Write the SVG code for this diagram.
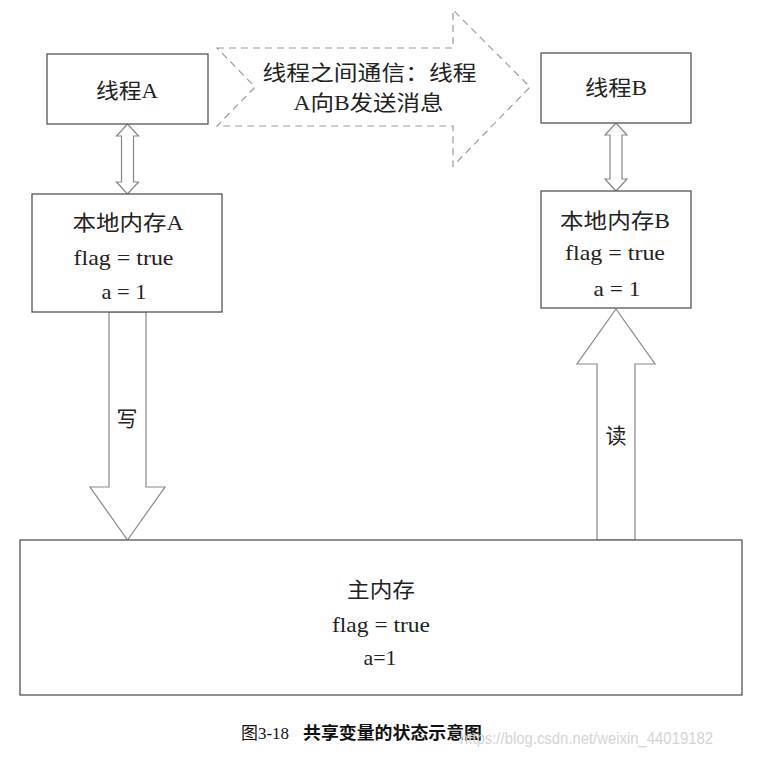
<svg xmlns="http://www.w3.org/2000/svg" width="759" height="757" viewBox="0 0 759 757">
<style>
.box{fill:#fff;stroke:#555;stroke-width:1.3}
.arr{fill:#fff;stroke:#888;stroke-width:1.2;stroke-linejoin:miter}
.dash{fill:#fff;stroke:#999;stroke-width:1.2;stroke-dasharray:7,5}
.t{font-family:"Liberation Serif","Noto Sans CJK SC",serif;font-size:21px;fill:#222;text-anchor:middle}
.cap{font-family:"Liberation Serif","Noto Sans CJK SC",serif;font-size:17px;fill:#111}
.capb{font-family:"Noto Sans CJK SC",sans-serif;font-size:17px;font-weight:bold;fill:#111}
.wm{font-family:"Liberation Sans",Arial,sans-serif;font-size:17px;fill:#d4d4d4}
</style>
<rect width="759" height="757" fill="#fff"/>
<g id="connectors">
<polygon class="dash" points="217,48 453,48 453,10 530,87 453,166 453,126 217,126 255,87"/>
<polygon class="arr" points="127.5,124 138.5,136 133.5,136 133.5,182 138.5,182 127.5,194 116.5,182 121.5,182 121.5,136 116.5,136"/>
<polygon class="arr" points="616,123 627,135 622,135 622,179 627,179 616,191 605,179 610,179 610,135 605,135"/>
<polygon class="arr" points="109,312 146,312 146,487 165,487 127.5,540 90,487 109,487"/>
<polygon class="arr" points="616,309 655,364 635,364 635,540 597,540 597,364 577,364"/>
<text class="t" x="369.5" y="79.5" textLength="214" lengthAdjust="spacingAndGlyphs">线程之间通信：线程</text>
<text class="t" x="368.5" y="110" textLength="150" lengthAdjust="spacingAndGlyphs">A向B发送消息</text>
<text class="t" x="127" y="426">写</text>
<text class="t" x="616" y="443">读</text>
</g>
<g id="threadA">
<rect class="box" x="47" y="54" width="161" height="70"/>
<text class="t" x="127" y="98" textLength="62" lengthAdjust="spacingAndGlyphs">线程A</text>
</g>
<g id="threadB">
<rect class="box" x="541" y="53" width="150" height="70"/>
<text class="t" x="616" y="95" textLength="62" lengthAdjust="spacingAndGlyphs">线程B</text>
</g>
<g id="localA">
<rect class="box" x="32" y="194" width="190" height="118"/>
<text class="t" x="128" y="230" textLength="111" lengthAdjust="spacingAndGlyphs">本地内存A</text>
<text class="t" x="123.5" y="265" textLength="100" lengthAdjust="spacingAndGlyphs">flag = true</text>
<text class="t" x="124" y="299" textLength="45" lengthAdjust="spacingAndGlyphs">a = 1</text>
</g>
<g id="localB">
<rect class="box" x="541" y="191" width="150" height="117"/>
<text class="t" x="615" y="228" textLength="110" lengthAdjust="spacingAndGlyphs">本地内存B</text>
<text class="t" x="615" y="260" textLength="100" lengthAdjust="spacingAndGlyphs">flag = true</text>
<text class="t" x="617" y="296" textLength="47" lengthAdjust="spacingAndGlyphs">a = 1</text>
</g>
<g id="mainMemory">
<rect class="box" x="20" y="540" width="722" height="155"/>
<text class="t" x="381" y="597" textLength="68" lengthAdjust="spacingAndGlyphs">主内存</text>
<text class="t" x="381" y="632" textLength="98" lengthAdjust="spacingAndGlyphs">flag = true</text>
<text class="t" x="380" y="665" textLength="33" lengthAdjust="spacingAndGlyphs">a=1</text>
</g>
<g id="caption">
<text class="cap" x="241" y="739" textLength="48" lengthAdjust="spacingAndGlyphs">图3-18</text>
<text class="capb" x="303" y="739" textLength="179" lengthAdjust="spacingAndGlyphs">共享变量的状态示意图</text>
<text class="wm" x="460" y="744" textLength="253" lengthAdjust="spacingAndGlyphs">https://blog.csdn.net/weixin_44019182</text>
</g>
</svg>
